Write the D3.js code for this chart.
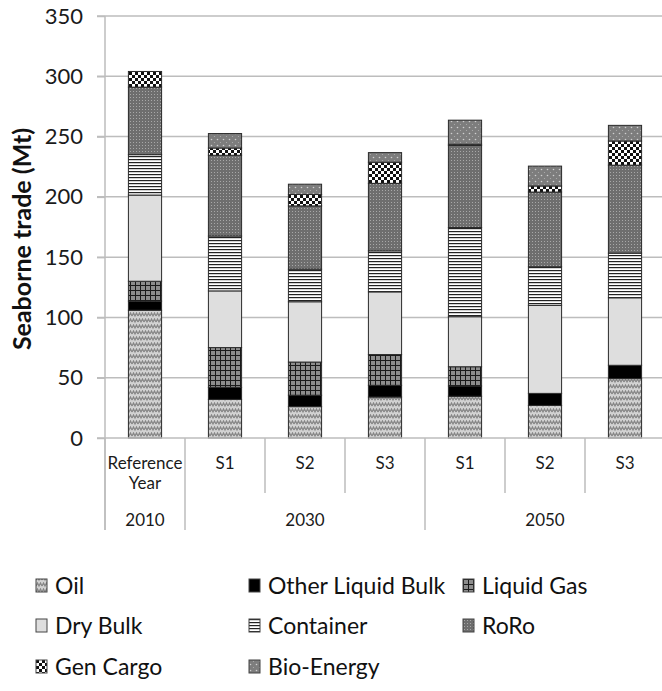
<!DOCTYPE html>
<html>
<head>
<meta charset="utf-8">
<script src="https://cdn.jsdelivr.net/npm/d3@7"></script>
<style>
  body { margin: 0; background: #fff; }
  svg { display: block; font-family: Lato, "Open Sans", sans-serif; }
</style>
</head>
<body>
<div id="chart"></div>
<script>
// categories (bottom axis, first row) and their year groups
const categories = ["Reference Year", "S1", "S2", "S3", "S1", "S2", "S3"];
const years = ["2010", "2030", "2030", "2030", "2050", "2050", "2050"];

// seaborne trade per cargo type, Mt
const oil = [106, 32, 26, 34, 34.6, 27, 49.3];
const otherLiquidBulk = [7.5, 10, 9.5, 9.7, 8.5, 10, 11];
const liquidGas = [16.5, 33, 27.5, 25.5, 16, 0, 0];
const dryBulk = [71.5, 47, 50, 52, 41.5, 73, 56];
const container = [33.5, 45.5, 27, 34, 74, 32, 37];
const roro = [56, 67, 52.5, 56, 68, 62, 73];
const genCargo = [13, 6, 9.5, 17.5, 1, 5, 20];
const bioEnergy = [0, 12, 8.5, 8, 20, 16.5, 13];

const seriesNames = ["Oil", "Other Liquid Bulk", "Liquid Gas", "Dry Bulk", "Container", "RoRo", "Gen Cargo", "Bio-Energy"];
const seriesValues = [oil, otherLiquidBulk, liquidGas, dryBulk, container, roro, genCargo, bioEnergy];
const yTicks = [0, 50, 100, 150, 200, 250, 300, 350];

const width = 662, height = 691;
const margin = { left: 105, top: 16, right: -3, bottom: 253 };

const rows = categories.map((c, i) => {
  const r = { key: i, cat: c, year: years[i] };
  seriesNames.forEach((s, j) => (r[s] = seriesValues[j][i]));
  return r;
});

const svg = d3.select("#chart").append("svg").attr("width", width).attr("height", height);

// fill patterns
const defs = svg.append("defs");
const pat = (id, w, h) =>
  defs.append("pattern").attr("id", id).attr("patternUnits", "userSpaceOnUse").attr("width", w).attr("height", h);

let p = pat("p-oil", 6, 6);
p.append("rect").attr("width", 6).attr("height", 6).attr("fill", "#d2d2d2");
p.append("path").attr("d", "M0,4 L1.5,1 L3,4 L4.5,1 L6,4").attr("fill", "none").attr("stroke", "#858585").attr("stroke-width", 1.2);

p = pat("p-lgas", 5, 5);
p.append("rect").attr("width", 5).attr("height", 5).attr("fill", "#8c8c8c");
p.append("path").attr("d", "M0,0.5 H5 M0.5,0 V5").attr("stroke", "#1a1a1a").attr("stroke-width", 1);

p = pat("p-cont", 4, 3);
p.append("rect").attr("width", 4).attr("height", 3).attr("fill", "#fff");
p.append("rect").attr("width", 4).attr("height", 1.2).attr("fill", "#222");

p = pat("p-roro", 3, 3);
p.append("rect").attr("width", 3).attr("height", 3).attr("fill", "#6e6e6e");
p.append("rect").attr("x", 1).attr("y", 1).attr("width", 1).attr("height", 1).attr("fill", "#a8a8a8");

p = pat("p-gen", 6, 6);
p.append("rect").attr("width", 6).attr("height", 6).attr("fill", "#111");
p.append("rect").attr("x", 0).attr("y", 0).attr("width", 3).attr("height", 3).attr("fill", "#fff");
p.append("rect").attr("x", 3).attr("y", 3).attr("width", 3).attr("height", 3).attr("fill", "#fff");

p = pat("p-bio", 6, 6);
p.append("rect").attr("width", 6).attr("height", 6).attr("fill", "#7d7d7d");
p.append("circle").attr("cx", 1.5).attr("cy", 1.5).attr("r", 0.8).attr("fill", "#d0d0d0");
p.append("circle").attr("cx", 4.5).attr("cy", 4.5).attr("r", 0.6).attr("fill", "#b0b0b0");

const fills = ["url(#p-oil)", "#000", "url(#p-lgas)", "#dedede", "url(#p-cont)", "url(#p-roro)", "url(#p-gen)", "url(#p-bio)"];
const color = d3.scaleOrdinal().domain(seriesNames).range(fills);

const x = d3
  .scaleBand()
  .domain(rows.map((d) => d.key))
  .range([margin.left, width - margin.right])
  .paddingInner(0.585)
  .paddingOuter(0.2925);

const y = d3
  .scaleLinear()
  .domain([0, 350])
  .range([height - margin.bottom, margin.top]);

// grid lines
svg
  .append("g")
  .selectAll("line")
  .data(yTicks.slice(1))
  .join("line")
  .attr("x1", margin.left - 8)
  .attr("x2", width)
  .attr("y1", (d) => y(d))
  .attr("y2", (d) => y(d))
  .attr("stroke", "#bdbdbd")
  .attr("stroke-width", 1.5);

// y axis
const yAxis = svg
  .append("g")
  .attr("transform", `translate(${margin.left},0)`)
  .call(d3.axisLeft(y).tickValues(yTicks).tickSize(8).tickPadding(14))
  .call((g) => g.select(".domain").remove());
yAxis.selectAll("line").attr("stroke", "#bdbdbd").attr("stroke-width", 1.5);
yAxis.selectAll("text").attr("font-size", 22).attr("fill", "#1a1a1a").style("font-family", "Lato");

svg
  .append("line")
  .attr("x1", margin.left)
  .attr("x2", margin.left)
  .attr("y1", margin.top)
  .attr("y2", 530)
  .attr("stroke", "#bdbdbd")
  .attr("stroke-width", 1.5);

svg
  .append("text")
  .attr("transform", `translate(31,${(y(0) + y(350)) / 2 + 12}) rotate(-90)`)
  .attr("text-anchor", "middle")
  .attr("font-size", 25)
  .attr("font-weight", "bold")
  .attr("fill", "#111")
  .text("Seaborne trade (Mt)");

// stacked bars
const stack = d3.stack().keys(seriesNames)(rows);

svg
  .append("g")
  .selectAll("g")
  .data(stack)
  .join("g")
  .attr("fill", (d) => color(d.key))
  .selectAll("rect")
  .data((d) => d.filter((v) => v[1] - v[0] > 0))
  .join("rect")
  .attr("x", (d) => x(d.data.key))
  .attr("y", (d) => y(d[1]))
  .attr("width", x.bandwidth())
  .attr("height", (d) => y(d[0]) - y(d[1]))
  .attr("stroke", "#2a2a2a")
  .attr("stroke-width", 1);

// category axis
const step = x.step();
const y0 = y(0);
svg
  .append("line")
  .attr("x1", margin.left - 8)
  .attr("x2", width)
  .attr("y1", y0)
  .attr("y2", y0)
  .attr("stroke", "#bdbdbd")
  .attr("stroke-width", 1.5);

const groupStarts = rows.filter((d, i) => i === 0 || years[i - 1] !== d.year).map((d) => d.key);
svg
  .append("g")
  .selectAll("line")
  .data(rows.map((d) => d.key).concat([rows.length]))
  .join("line")
  .attr("x1", (d) => margin.left + d * step)
  .attr("x2", (d) => margin.left + d * step)
  .attr("y1", y0)
  .attr("y2", (d) => (groupStarts.includes(d) || d === rows.length ? 530 : 493))
  .attr("stroke", "#bdbdbd")
  .attr("stroke-width", 1.5);

function wrap(text, w) {
  text.each(function () {
    const t = d3.select(this);
    const words = t.text().split(" ");
    const xx = t.attr("x");
    t.text(null);
    let line = [];
    let tspan = t.append("tspan").attr("x", xx).attr("dy", 0);
    words.forEach((word) => {
      line.push(word);
      tspan.text(line.join(" "));
      if (tspan.node().getComputedTextLength() > w && line.length > 1) {
        line.pop();
        tspan.text(line.join(" "));
        line = [word];
        tspan = t.append("tspan").attr("x", xx).attr("dy", "1.2em").text(word);
      }
    });
  });
}

svg
  .append("g")
  .selectAll("text")
  .data(rows)
  .join("text")
  .attr("x", (d) => x(d.key) + x.bandwidth() / 2)
  .attr("y", y0 + 31)
  .attr("text-anchor", "middle")
  .attr("font-size", 17)
  .attr("fill", "#1a1a1a")
  .text((d) => d.cat)
  .call(wrap, 78);

// year groups
const groups = d3.groups(rows, (d) => d.year);
svg
  .append("g")
  .selectAll("text")
  .data(groups)
  .join("text")
  .attr("x", (g) => (x(g[1][0].key) + x(g[1][g[1].length - 1].key) + x.bandwidth()) / 2)
  .attr("y", 526)
  .attr("text-anchor", "middle")
  .attr("font-size", 17)
  .attr("fill", "#1a1a1a")
  .text((g) => g[0]);

// legend
const legendX = [36, 249, 463];
const legendY = [594, 634, 675];
const legend = svg
  .append("g")
  .selectAll("g")
  .data(seriesNames)
  .join("g")
  .attr("transform", (d, i) => `translate(${legendX[i % 3]},${legendY[Math.floor(i / 3)]})`);

legend
  .append("rect")
  .attr("x", 0)
  .attr("y", -15)
  .attr("width", 11)
  .attr("height", 13)
  .attr("fill", (d) => color(d))
  .attr("stroke", "#444")
  .attr("stroke-width", 1);

legend
  .append("text")
  .attr("x", 19)
  .attr("y", 0)
  .attr("font-size", 23)
  .attr("fill", "#111")
  .text((d) => d);
</script>
</body>
</html>
